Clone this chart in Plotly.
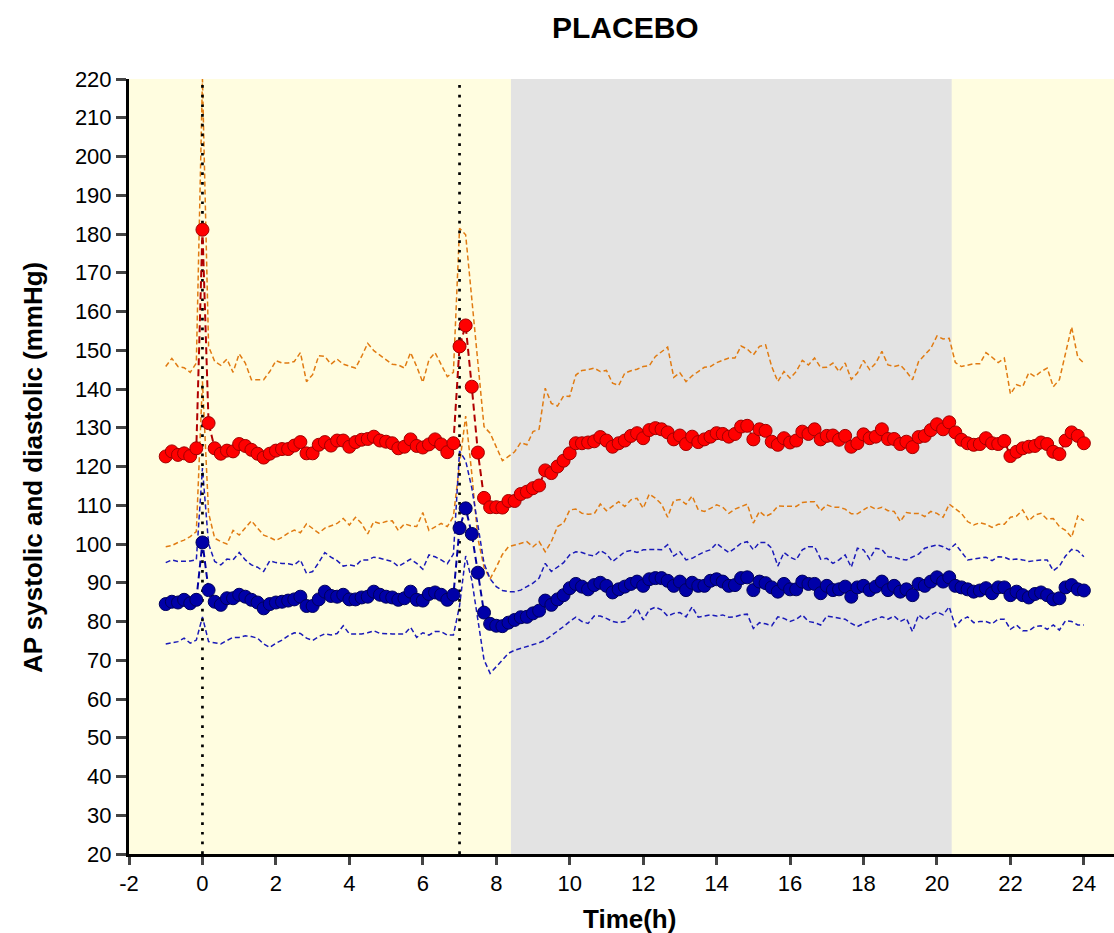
import plotly.graph_objects as go

# Time grid: every 10 min from -1 h to 24 h
time_h = [round(-1 + i / 6, 4) for i in range(151)]

sys_mean = [122.6, 123.9, 123.0, 123.4, 122.7, 124.7, 181.1,
    131.2, 124.7, 123.3, 124.1, 123.9, 125.8, 125.3, 124.3, 123.3, 122.3, 123.3, 124.1, 124.5, 124.5,
    125.4, 126.3, 123.4, 123.4, 125.6, 126.3, 125.4, 126.7, 126.7, 125.1, 126.3, 126.9, 127.1, 127.7,
    126.7, 126.4, 126.0, 124.7, 125.1, 127.0, 125.3, 124.9, 125.7, 127.0, 125.7, 123.7, 126.0, 151.0,
    156.4, 140.6, 123.6, 111.9, 109.5, 109.5,
    109.4, 111.1, 111.1, 112.9, 113.5, 114.4, 115.1, 119.0, 118.3, 120.0, 121.5, 123.4, 126.0, 126.0,
    126.2, 126.5, 127.6, 126.7, 125.1, 126.0, 126.7, 127.9, 128.6, 127.3, 129.4, 129.9, 129.6, 128.8,
    127.0, 128.0, 125.8, 127.7, 126.3, 127.0, 127.7, 128.6, 128.4, 127.7, 128.4, 130.3, 130.5, 127.0,
    129.6, 129.2, 126.4, 125.6, 127.3, 126.2, 126.7, 129.0,
    128.4, 129.6, 127.0, 127.9, 128.0, 126.9, 127.9, 125.1, 126.0, 128.3, 127.3, 127.7, 129.6, 127.1,
    127.1, 125.8, 126.4, 125.0, 127.6, 127.9, 129.4, 130.9, 129.6, 131.4, 128.8, 126.9, 126.0, 125.6,
    125.8, 127.3, 126.0, 125.8, 126.6, 122.7, 123.8, 124.7, 125.1, 125.3, 126.2, 125.8, 123.8, 123.2,
    126.7, 128.8, 127.9, 126.0]

sys_upper = [145.8, 147.9, 145.8, 145.5, 144.3, 146.7, 220.0,
    151.0, 147.1, 146.1, 147.7, 144.3, 149.1, 146.7, 142.4, 142.4, 142.4, 144.5, 147.3, 146.7, 146.7,
    147.1, 149.4, 141.9, 143.7, 148.6, 148.4, 146.4, 147.7, 146.4, 146.0, 145.4, 148.4, 151.8, 149.9,
    148.8, 147.7, 146.4, 146.2, 145.4, 149.4, 145.8, 141.7, 147.5, 149.4, 146.2, 143.2, 144.3, 181.5,
    179.8, 163.0, 145.8, 130.3, 128.6, 125.2,
    121.5, 122.6, 123.8, 126.2, 125.6, 129.0, 129.6, 140.2, 136.3, 135.6, 138.2, 138.1, 143.6, 144.8,
    145.0, 145.4, 144.5, 144.8, 141.5, 140.9, 144.1, 144.7, 145.1, 145.8, 146.0, 148.4, 149.7, 150.8,
    143.0, 144.2, 141.9, 143.4, 144.5, 145.6, 145.8, 146.8, 147.4, 148.0, 148.0, 151.1, 150.3, 148.8,
    151.0, 151.4, 145.8, 141.9, 144.5, 142.8, 144.5, 147.4,
    146.2, 148.0, 145.5, 145.6, 146.7, 144.5, 146.7, 142.5, 144.1, 147.4, 145.0, 146.7, 149.7, 146.2,
    145.8, 146.2, 144.5, 142.4, 147.1, 148.8, 150.5, 153.7, 152.9, 153.1, 146.8, 145.8, 146.2, 146.5,
    146.5, 149.4, 148.2, 146.8, 148.0, 138.7, 141.1, 140.6, 144.2, 143.2, 144.5, 145.4, 140.6, 142.4,
    149.2, 156.0, 148.2, 146.7]

sys_lower = [99.3, 99.6, 100.4, 101.0, 101.9, 103.2, 142.0,
    108.0, 101.5, 100.6, 100.0, 103.5, 102.3, 104.1, 106.0, 104.1, 102.3, 101.7, 100.9, 101.7, 102.8,
    103.6, 102.9, 105.2, 104.1, 102.8, 104.1, 104.7, 105.3, 106.6, 104.9, 106.9, 105.3, 102.6, 105.8,
    105.3, 105.8, 106.0, 103.5, 105.2, 104.7, 104.5, 108.1, 103.5, 104.5, 105.3, 104.5, 107.1, 120.5,
    133.0, 118.2, 101.4, 94.0, 91.0, 94.0,
    97.3, 99.3, 99.8, 100.2, 100.6, 99.3, 100.6, 98.0, 100.6, 104.5, 105.4, 108.8, 109.0, 107.9,
    107.7, 107.8, 110.3, 108.6, 109.7, 110.9, 109.7, 111.4, 111.8, 109.2, 112.9, 111.8, 110.3, 106.9,
    111.2, 111.5, 110.3, 112.4, 108.8, 108.4, 109.2, 110.1, 109.5, 107.9, 109.0, 109.7, 110.3, 105.4,
    108.4, 107.1, 107.9, 109.8, 109.8, 109.8, 109.7, 110.7,
    110.9, 110.9, 108.6, 110.1, 109.5, 109.5, 109.0, 107.8, 107.8, 108.8, 109.8, 109.0, 109.5, 108.6,
    108.4, 105.8, 108.1, 107.9, 107.9, 107.1, 108.4, 107.9, 106.9, 110.3, 109.2, 107.9, 105.8, 104.9,
    105.5, 105.1, 104.3, 105.1, 105.1, 106.9, 107.2, 108.8, 106.0, 107.5, 107.9, 106.4, 106.6, 104.5,
    103.5, 101.7, 107.2, 106.0]

dia_mean = [84.5, 85.1, 84.9, 85.6, 84.7, 85.6, 100.4,
    88.1, 85.1, 84.3, 86.0, 86.0, 86.9, 86.4, 85.6, 84.9, 83.4, 84.5, 84.9, 85.1, 85.4,
    85.7, 86.4, 84.0, 84.0, 85.7, 87.7, 86.6, 86.4, 86.9, 85.7, 85.7, 86.2, 86.4, 87.7,
    86.9, 86.4, 86.2, 85.6, 86.0, 87.7, 85.6, 85.4, 87.1, 87.5, 86.9, 85.6, 86.9, 104.1,
    109.2, 102.6, 92.6, 82.3, 79.4, 78.9,
    78.8, 79.7, 80.4, 81.1, 81.2, 82.1, 82.8, 85.4, 84.3, 85.7, 86.8, 88.6, 89.7, 89.0,
    88.3, 89.4, 90.0, 89.2, 87.5, 88.3, 89.0, 89.7, 90.3, 89.2, 90.9, 91.2, 91.2, 90.5,
    89.2, 90.3, 88.1, 90.0, 89.2, 89.2, 90.5, 90.9, 90.3, 89.2, 89.4, 91.2, 91.4, 88.1,
    90.3, 89.9, 88.8, 87.7, 89.7, 88.3, 88.3, 90.3,
    89.7, 89.7, 87.3, 89.2, 88.1, 88.3, 89.0, 86.4, 88.8, 89.2, 88.1, 89.0, 90.3, 88.1,
    89.2, 87.7, 88.3, 86.8, 89.7, 89.2, 90.3, 91.4, 90.3, 91.4, 89.2, 88.8, 88.3, 87.7,
    88.0, 88.6, 87.3, 88.8, 88.8, 86.8, 87.7, 86.8, 86.2, 87.1, 87.5, 86.8, 85.7, 86.0,
    88.8, 89.4, 88.3, 88.0]

dia_upper = [95.2, 95.9, 95.5, 95.5, 95.6, 95.9, 119.6,
    100.0, 95.5, 94.6, 96.1, 95.9, 97.8, 95.9, 94.6, 94.0, 92.9, 95.7, 95.2, 95.0, 94.9,
    94.6, 95.9, 92.4, 92.9, 95.2, 97.8, 96.6, 95.7, 94.3, 94.6, 94.3, 95.9, 95.9, 96.6,
    96.3, 95.9, 95.5, 94.2, 95.2, 96.1, 95.0, 93.5, 97.2, 96.7, 95.9, 94.9, 97.4, 124.0,
    121.5, 114.5, 104.8, 95.0, 91.0, 89.0,
    88.0, 87.7, 87.7, 88.1, 89.0, 89.9, 91.2, 95.0, 92.9, 94.0, 95.2, 97.2, 98.0, 97.8,
    97.2, 96.9, 98.3, 97.4, 95.5, 96.7, 98.0, 98.3, 97.8, 98.5, 98.6, 98.6, 98.5, 99.8,
    96.9, 98.0, 95.9, 96.3, 97.2, 98.0, 98.5, 100.2, 98.9, 97.8, 98.9, 100.2, 100.6, 98.5,
    100.4, 100.4, 98.9, 94.3, 97.8, 96.6, 95.9, 98.5,
    99.3, 99.3, 96.1, 96.3, 95.0, 95.9, 97.2, 94.0, 98.9, 98.5, 96.1, 98.9, 98.6, 96.7,
    96.6, 96.1, 95.9, 96.6, 97.4, 98.9, 99.3, 99.8, 99.3, 98.5, 100.0, 98.0, 95.9, 96.1,
    96.3, 96.6, 95.7, 96.7, 96.6, 95.9, 96.1, 95.9, 95.5, 95.7, 95.9, 95.9, 93.1, 94.3,
    96.9, 98.6, 98.3, 96.7]

dia_lower = [74.2, 74.5, 74.8, 75.7, 74.4, 75.2, 81.2,
    74.8, 74.5, 74.2, 75.1, 75.9, 75.9, 76.3, 76.1, 75.7, 74.2, 73.3, 74.4, 75.2, 76.3,
    77.1, 76.9, 75.7, 75.1, 76.1, 76.8, 76.5, 76.9, 78.9, 76.8, 76.8, 76.8, 77.1, 77.6,
    76.9, 76.8, 76.8, 76.8, 76.8, 78.5, 75.9, 77.1, 76.5, 77.4, 77.4, 76.5, 76.5, 84.0,
    96.9, 90.7, 80.4, 70.1, 66.6, 68.3,
    70.1, 71.8, 72.6, 73.1, 73.5, 73.9, 74.5, 75.2, 76.3, 77.4, 78.7, 80.0, 81.1, 80.0,
    79.5, 81.4, 81.4, 80.8, 80.0, 79.7, 80.0, 81.4, 83.4, 80.4, 83.0, 83.7, 83.0, 81.4,
    82.1, 82.3, 81.2, 83.8, 81.1, 81.4, 81.7, 81.4, 81.7, 81.1, 81.2, 81.7, 81.9, 78.2,
    79.7, 79.4, 78.9, 81.2, 80.8, 80.0, 80.6, 81.7,
    80.0, 79.7, 79.1, 81.4, 81.1, 80.8, 80.6, 79.5, 78.7, 79.5, 80.0, 80.6, 81.2, 80.6,
    81.4, 80.0, 80.8, 77.4, 81.7, 80.4, 81.7, 82.5, 81.7, 83.8, 78.7, 80.4, 81.2, 79.7,
    80.0, 80.0, 79.4, 80.6, 80.6, 78.0, 79.1, 77.6, 77.6, 78.7, 78.9, 78.0, 79.1, 77.8,
    80.2, 80.0, 79.1, 79.1]

dose_times = [0, 7]
night_start, night_end = 8.4, 20.4
x_range = [-2, 24.82]
y_range = [20, 220]
x_ticks = list(range(-2, 25, 2))
x_ticktext = [str(v) for v in x_ticks]
y_ticks = list(range(20, 221, 10))

FONT = "Liberation Sans, Arial, sans-serif"
ORANGE = "#E07B12"
BLUE_SD = "#1A1AB8"

W, H = 1114, 933
ML, MT, MB = 129, 79, 79
PW = W - ML
PH = H - MT - MB

fig = go.Figure()

# SD lines
for ys, col in [(sys_upper, ORANGE), (sys_lower, ORANGE), (dia_upper, BLUE_SD), (dia_lower, BLUE_SD)]:
    fig.add_trace(go.Scatter(x=time_h, y=ys, mode="lines",
                             line=dict(color=col, width=1.5, dash="5px,3px"),
                             hoverinfo="skip", showlegend=False))

# dose lines
for t in dose_times:
    fig.add_trace(go.Scatter(x=[t, t], y=y_range, mode="lines",
                             line=dict(color="black", width=2.7, dash="2.7px,7px"),
                             hoverinfo="skip", showlegend=False))

# Means
fig.add_trace(go.Scatter(x=time_h, y=dia_mean, mode="lines+markers",
                         line=dict(color="#0000A0", width=2, dash="7px,4px"),
                         marker=dict(size=13, color="#0000A8", line=dict(color="#00005A", width=1)),
                         showlegend=False))
fig.add_trace(go.Scatter(x=time_h, y=sys_mean, mode="lines+markers",
                         line=dict(color="#B00000", width=2, dash="7px,4px"),
                         marker=dict(size=13, color="#FF0000", line=dict(color="#A00000", width=1)),
                         showlegend=False))

fig.add_shape(type="rect", xref="x", yref="paper", x0=night_start, x1=night_end, y0=0, y1=1,
              fillcolor="#E3E3E3", line=dict(width=0), layer="below")

fig.update_layout(
    width=W, height=H,
    margin=dict(l=ML, r=0, t=MT, b=MB, pad=0),
    paper_bgcolor="white",
    plot_bgcolor="#FFFDE0",
    font=dict(family=FONT, color="black", size=22),
    showlegend=False,
)
fig.update_xaxes(range=x_range, tickvals=x_ticks, ticktext=x_ticktext, ticks="outside", ticklen=8, tickwidth=3,
                 showline=True, linewidth=3, linecolor="black", showgrid=False, zeroline=False,
                 tickfont=dict(size=22, family=FONT))
fig.update_yaxes(range=y_range, tickvals=y_ticks, ticks="outside", ticklen=10, tickwidth=3,
                 showline=True, linewidth=3, linecolor="black", showgrid=False, zeroline=False,
                 tickfont=dict(size=22, family=FONT))

def px_x(x):
    return (x - ML) / PW

def px_y(y):
    return (MT + PH - y) / PH

fig.add_annotation(text="<b>PLACEBO</b>", xref="paper", yref="paper", x=px_x(625), y=px_y(28),
                   xanchor="center", yanchor="middle", showarrow=False, font=dict(size=30, family=FONT))
fig.add_annotation(text="<b>Time(h)</b>", xref="paper", yref="paper", x=px_x(629), y=px_y(919),
                   xanchor="center", yanchor="middle", showarrow=False, font=dict(size=26, family=FONT))
fig.add_annotation(text="<b>AP systolic and diastolic (mmHg)</b>", xref="paper", yref="paper",
                   x=px_x(33), y=px_y(468), xanchor="center", yanchor="middle", textangle=-90,
                   showarrow=False, font=dict(size=26, family=FONT))

fig.write_html("out.html", config={"displayModeBar": False},
               post_script="document.body.style.margin='0';document.body.style.overflow='hidden';")
